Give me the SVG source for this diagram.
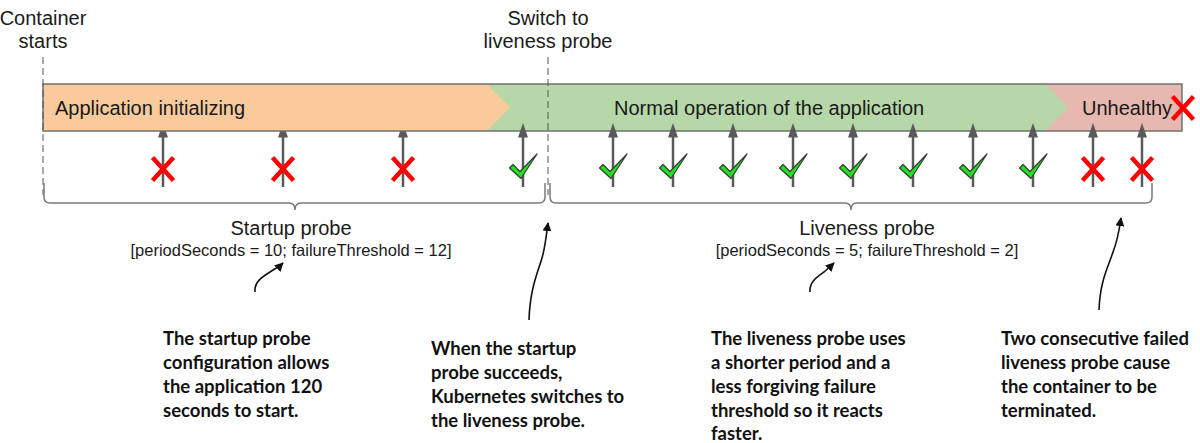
<svg xmlns="http://www.w3.org/2000/svg" width="1200" height="443" viewBox="0 0 1200 443">
<style>
.lbl{font-family:"Liberation Sans",Arial,sans-serif;font-size:20px;fill:#1a1a1a}
.mid{text-anchor:middle}
.sm{font-family:"Liberation Sans",Arial,sans-serif;font-size:16.5px;fill:#1a1a1a;text-anchor:middle}
.note{font-family:Lato,"Liberation Sans",sans-serif;font-weight:bold;font-size:18.5px;fill:#111}
.dash{stroke:#555;stroke-width:1;stroke-dasharray:7 4;fill:none}
.brace{stroke:#7a7a7a;stroke-width:1.5;fill:none}
.probe{stroke:#5a5a5a;stroke-width:2.5}
.head{fill:#5a5a5a}
.fail{stroke:#ff0000;stroke-width:4.5;fill:none}
.ok{fill:#22e022;stroke:#3a3a3a;stroke-width:1.2;stroke-linejoin:round}
.ann{stroke:#111;stroke-width:1.6;fill:none}
</style>
<defs>
<marker id="ah" viewBox="0 0 10 10" refX="9" refY="5" markerWidth="9" markerHeight="9" markerUnits="userSpaceOnUse" orient="auto">
<path d="M0,0 L10,5 L0,10 z" fill="#111"/>
</marker>
<g id="upArrow"><line class="probe" x1="0" y1="187" x2="0" y2="134"/><polygon class="head" points="-5,137.5 5,137.5 0,123"/></g>
<path id="check" class="ok" d="M-11.5,-9 L-8,-12.5 L-1,-5.5 L16,-23 L0,1.5 Z"/>
<g id="cross"><line class="fail" x1="-10.5" y1="-11.5" x2="10.5" y2="11.5"/><line class="fail" x1="10.5" y1="-11.5" x2="-10.5" y2="11.5"/></g>
</defs>
<rect width="1200" height="443" fill="#ffffff"/>

<g id="label-container-starts">
<text class="lbl mid" x="43" y="25">Container</text>
<text class="lbl mid" x="43" y="48">starts</text>
</g>
<g id="label-switch">
<text class="lbl mid" x="548" y="25">Switch to</text>
<text class="lbl mid" x="548" y="48">liveness probe</text>
</g>

<g id="startup-probes-behind">
<use href="#upArrow" x="163"/>
<use href="#upArrow" x="283"/>
<use href="#upArrow" x="403"/>
</g>

<g id="timeline">
<rect x="487" y="84" width="695" height="47" fill="#e6b8af"/>
<polygon id="phase-normal" points="487,84 1045,84 1068,107.5 1045,131 487,131" fill="#b6d7a8"/>
<polygon id="phase-init" points="43,84 487,84 510,107.5 487,131 43,131" fill="#f9cb9c"/>
<rect x="43" y="84" width="1139" height="47" fill="none" stroke="#707070" stroke-width="1.5"/>
<text class="lbl" x="55" y="115">Application initializing</text>
<text class="lbl" x="614" y="115">Normal operation of the application</text>
<text class="lbl" x="1082" y="115">Unhealthy</text>
</g>

<g id="dashed-markers">
<line class="dash" x1="43" y1="57" x2="43" y2="195"/>
<line class="dash" x1="548" y1="57" x2="548" y2="195"/>
</g>

<g id="probes">
<use href="#upArrow" x="523"/>
<use href="#upArrow" x="613"/>
<use href="#upArrow" x="673"/>
<use href="#upArrow" x="733"/>
<use href="#upArrow" x="793"/>
<use href="#upArrow" x="853"/>
<use href="#upArrow" x="913"/>
<use href="#upArrow" x="973"/>
<use href="#upArrow" x="1033"/>
<use href="#upArrow" x="1093"/>
<use href="#upArrow" x="1142"/>
</g>

<g id="results">
<use href="#cross" x="163" y="169"/>
<use href="#cross" x="283" y="169"/>
<use href="#cross" x="403" y="169"/>
<use href="#check" x="521" y="177"/>
<use href="#check" x="611" y="177"/>
<use href="#check" x="671" y="177"/>
<use href="#check" x="731" y="177"/>
<use href="#check" x="791" y="177"/>
<use href="#check" x="851" y="177"/>
<use href="#check" x="911" y="177"/>
<use href="#check" x="971" y="177"/>
<use href="#check" x="1031" y="177"/>
<use href="#cross" x="1093" y="169"/>
<use href="#cross" x="1142" y="169"/>
<use href="#cross" x="1183" y="108"/>
</g>

<g id="startup-brace">
<path class="brace" d="M44,183 L44,197 Q44,203 50,203 L289,203 Q295,203 295,210 Q295,203 301,203 L539,203 Q545,203 545,197 L545,183"/>
<text class="lbl mid" x="291" y="235">Startup probe</text>
<text class="sm" x="291" y="256">[periodSeconds = 10; failureThreshold = 12]</text>
</g>
<g id="liveness-brace">
<path class="brace" d="M550,183 L550,197 Q550,203 556,203 L845,203 Q851,203 851,210 Q851,203 857,203 L1146,203 Q1152,203 1152,197 L1152,183"/>
<text class="lbl mid" x="867" y="235">Liveness probe</text>
<text class="sm" x="867" y="256">[periodSeconds = 5; failureThreshold = 2]</text>
</g>

<g id="connectors">
<path class="ann" marker-end="url(#ah)" d="M255,292 C254,282 262,277 270,272 C276,268 280,266 283,263"/>
<path class="ann" marker-end="url(#ah)" d="M529,320 C530,288 538,272 542,258 C545,248 546,238 548,223"/>
<path class="ann" marker-end="url(#ah)" d="M810,292 C809,282 817,277 824,272 C829,268 831,266 834,263"/>
<path class="ann" marker-end="url(#ah)" d="M1099,310 C1100,280 1109,265 1113,252 C1117,242 1119,232 1121,218"/>
</g>

<g id="note-startup">
<text class="note" x="163" y="345">The startup probe</text>
<text class="note" x="163" y="369">configuration allows</text>
<text class="note" x="163" y="393">the application 120</text>
<text class="note" x="163" y="416.5">seconds to start.</text>
</g>
<g id="note-switch">
<text class="note" x="431" y="355">When the startup</text>
<text class="note" x="431" y="379">probe succeeds,</text>
<text class="note" x="431" y="403">Kubernetes switches to</text>
<text class="note" x="431" y="426.5">the liveness probe.</text>
</g>
<g id="note-liveness">
<text class="note" x="711" y="345">The liveness probe uses</text>
<text class="note" x="711" y="369">a shorter period and a</text>
<text class="note" x="711" y="393">less forgiving failure</text>
<text class="note" x="711" y="416.5">threshold so it reacts</text>
<text class="note" x="711" y="440">faster.</text>
</g>
<g id="note-unhealthy">
<text class="note" x="1001" y="345">Two consecutive failed</text>
<text class="note" x="1001" y="369">liveness probe cause</text>
<text class="note" x="1001" y="393">the container to be</text>
<text class="note" x="1001" y="416.5">terminated.</text>
</g>
</svg>
